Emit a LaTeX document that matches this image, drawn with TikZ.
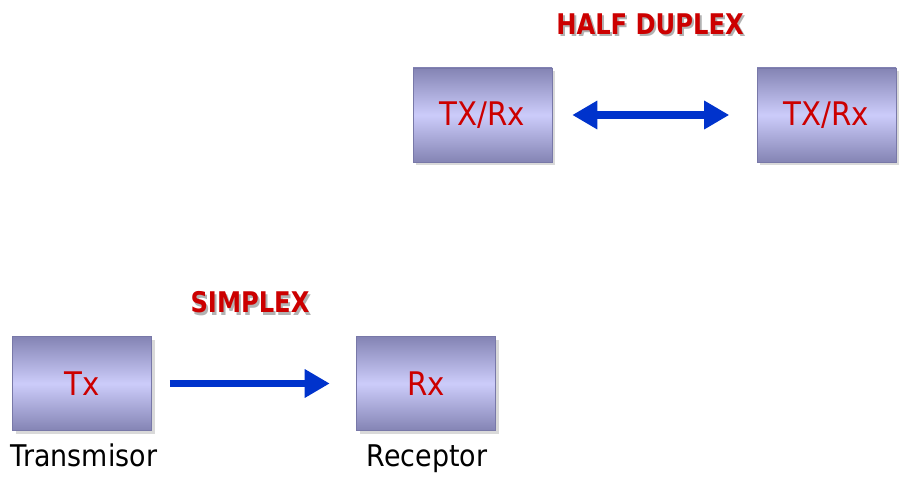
\documentclass[tikz,border=0pt]{standalone}
\usepackage{fontspec}
\setmainfont{DejaVu Sans}[FakeStretch=0.9]
\newfontfamily\titlefont{DejaVu Sans}[FakeStretch=0.85]
\usepackage{xcolor}
\usetikzlibrary{arrows.meta,positioning,shadows}

\definecolor{boxedge}{HTML}{7878A8}
\definecolor{boxdark}{HTML}{8484B4}
\definecolor{boxlight}{HTML}{CCCCFA}
\definecolor{lblred}{HTML}{CC0000}
\definecolor{arrowblue}{HTML}{0033CC}

\begin{document}
\begin{tikzpicture}[
  unit/.style={rectangle, draw=boxedge, line width=0.3pt, minimum width=27.8mm, minimum height=18.8mm,
               top color=boxdark, bottom color=boxdark, middle color=boxlight,
               drop shadow={shadow xshift=0.6mm, shadow yshift=-0.6mm, fill=black!25, opacity=0.6},
               text=lblred, font=\fontsize{18.5}{22}\selectfont},
  title/.style={anchor=base, text=lblred, font=\titlefont\bfseries\fontsize{16.2}{19}\selectfont},
  tshadow/.style={title, text=black!30},
  caption/.style={anchor=base, text=black, font=\fontsize{17}{20}\selectfont},
  link/.style={-{Triangle[length=5mm, width=5.4mm]}, draw=arrowblue, line width=4pt,
               shorten <=3.6mm, shorten >=5.3mm},
  duplex/.style={link, {Triangle[length=5mm, width=5.4mm]}-{Triangle[length=5mm, width=5.4mm]},
               shorten <=4mm, shorten >=5.5mm}
]
\useasboundingbox (0,0) rectangle (18.16,9.58);
% half duplex
\node[tshadow] at (13.04,8.84) {HALF DUPLEX};
\node[title] (hdx) at (13.0,8.88) {HALF DUPLEX};
\node[unit] (trxa) at (9.65,7.28) {TX/Rx};
\node[unit] (trxb) at (16.53,7.28) {TX/Rx};
\draw[duplex] (trxa) -- (trxb);
% simplex
\node[tshadow] at (5.04,3.28) {SIMPLEX};
\node[title] (spx) at (5.0,3.32) {SIMPLEX};
\node[unit] (tx) at (1.64,1.91) {Tx};
\node[unit] (rx) at (8.52,1.91) {Rx};
\node[caption] (txl) at (1.68,0.26) {Transmisor};
\node[caption] (rxl) at (8.54,0.26) {Receptor};
\draw[link] (tx) -- (rx);
\end{tikzpicture}
\end{document}
